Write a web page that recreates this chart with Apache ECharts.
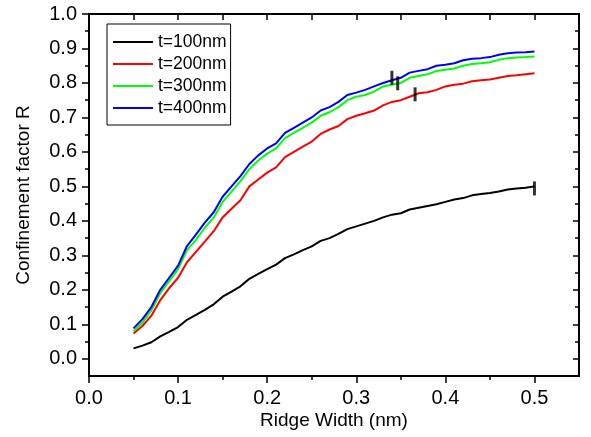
<!DOCTYPE html>
<html><head><meta charset="utf-8">
<script src="https://cdn.jsdelivr.net/npm/echarts@6/dist/echarts.min.js"></script>
<style>html,body{margin:0;padding:0;background:#fff}#c{width:591px;height:437px}</style>
</head><body><div id="c"></div>
<script>
const xValues = [0.05,0.06,0.07,0.08,0.09,0.10,0.11,0.12,0.13,0.14,0.15,0.16,0.17,0.18,0.19,0.20,0.21,0.22,0.23,0.24,0.25,0.26,0.27,0.28,0.29,0.30,0.31,0.32,0.33,0.34,0.35,0.36,0.37,0.38,0.39,0.40,0.41,0.42,0.43,0.44,0.45,0.46,0.47,0.48,0.49,0.50];
const t100 = [0.030,0.038,0.048,0.065,0.078,0.092,0.113,0.127,0.142,0.158,0.180,0.195,0.210,0.232,0.246,0.260,0.273,0.292,0.303,0.315,0.326,0.342,0.350,0.362,0.376,0.384,0.392,0.400,0.410,0.418,0.422,0.433,0.438,0.443,0.448,0.455,0.462,0.466,0.474,0.478,0.481,0.485,0.491,0.494,0.496,0.500];
const t200 = [0.073,0.095,0.125,0.170,0.205,0.235,0.280,0.310,0.340,0.370,0.410,0.435,0.460,0.500,0.520,0.540,0.555,0.585,0.600,0.615,0.630,0.652,0.665,0.675,0.695,0.705,0.712,0.720,0.735,0.745,0.750,0.760,0.770,0.773,0.780,0.790,0.795,0.798,0.805,0.808,0.810,0.815,0.820,0.822,0.825,0.828];
const t300 = [0.080,0.105,0.140,0.190,0.225,0.260,0.315,0.345,0.380,0.410,0.455,0.485,0.515,0.550,0.575,0.595,0.610,0.640,0.655,0.670,0.685,0.705,0.715,0.730,0.750,0.760,0.765,0.775,0.790,0.795,0.800,0.815,0.820,0.825,0.835,0.838,0.842,0.850,0.855,0.857,0.860,0.867,0.872,0.874,0.875,0.877];
const t400 = [0.088,0.115,0.150,0.200,0.235,0.270,0.327,0.360,0.395,0.425,0.470,0.500,0.530,0.565,0.590,0.610,0.625,0.655,0.670,0.685,0.700,0.720,0.730,0.745,0.765,0.772,0.780,0.790,0.800,0.808,0.815,0.830,0.835,0.840,0.850,0.853,0.857,0.866,0.870,0.872,0.875,0.882,0.886,0.888,0.889,0.891];
const seriesNames = ['t=100nm','t=200nm','t=300nm','t=400nm'];
const seriesColors = ['#000000','#ff0000','#00ff00','#0000ff'];
const errX = [0.5, 0.366, 0.3465, 0.340];
const errY = [0.494, 0.767, 0.799, 0.815];
const xTicks = [0.0,0.1,0.2,0.3,0.4,0.5];
const xMinorTicks = [0.05,0.15,0.25,0.35,0.45];
const yTicks = [0.0,0.1,0.2,0.3,0.4,0.5,0.6,0.7,0.8,0.9,1.0];
const yMinorTicks = [0.05,0.15,0.25,0.35,0.45,0.55,0.65,0.75,0.85,0.95];

const font = 'Liberation Sans, Arial, sans-serif';
const allSeries = [t100,t200,t300,t400];
const chart = echarts.init(document.getElementById('c'), null, {renderer:'canvas'});

function xAx(pos, ticks, len, inside, labels, name) {
  return {
    type:'value', position:pos, min:0, max:0.55, gridIndex:0,
    name: name || '', nameLocation:'middle', nameGap:35, nameMoveOverlap:false,
    nameTextStyle:{fontFamily:font,fontSize:19,color:'#000',verticalAlign:'top'},
    axisLine:{show:true,onZero:false,lineStyle:{color:'#000',width:2}},
    axisTick:{show:true,inside:inside,length:len,customValues:ticks,lineStyle:{color:'#000',width:1.5}},
    axisLabel:{show:labels,customValues:xTicks,margin:12,fontFamily:font,fontSize:20,color:'#000',formatter:v=>v.toFixed(1)},
    splitLine:{show:false}
  };
}
function yAx(pos, ticks, len, inside, labels, name) {
  return {
    type:'value', position:pos, min:-0.05, max:1.0, gridIndex:0,
    name: name || '', nameLocation:'middle', nameGap:56,
    nameTextStyle:{fontFamily:font,fontSize:19,color:'#000'},
    axisLine:{show:true,onZero:false,lineStyle:{color:'#000',width:2}},
    axisTick:{show:true,inside:inside,length:len,customValues:ticks,lineStyle:{color:'#000',width:1.5}},
    axisLabel:{show:labels,customValues:yTicks,margin:12,fontFamily:font,fontSize:20,color:'#000',formatter:v=>v.toFixed(1)},
    splitLine:{show:false}
  };
}

const series = seriesNames.map((n,i)=>({
  name:n, type:'line', xAxisIndex:0, yAxisIndex:0,
  data:xValues.map((x,j)=>[x,allSeries[i][j]]),
  symbol:'none', lineStyle:{color:seriesColors[i],width:2}, itemStyle:{color:seriesColors[i]},
  z: 2+i
}));
series.push({
  type:'scatter', xAxisIndex:0, yAxisIndex:0,
  data:errX.map((x,i)=>[x,errY[i]]),
  symbol:'rect', symbolSize:[3,14], itemStyle:{color:'#000'}, z:10, silent:true
});

chart.setOption({
  animation:false,
  backgroundColor:'#fff',
  grid:{left:89,right:12,top:14,bottom:61,containLabel:false},
  legend:{
    data:seriesNames.map((n,i)=>({name:n, icon:'rect', itemStyle:{color:seriesColors[i]}})),
    orient:'vertical', left:107, top:24,
    itemWidth:40, itemHeight:2, itemGap:4,
    padding:[9,4,8,6], borderColor:'#000', borderWidth:1,
    textStyle:{fontFamily:font,fontSize:17.5,lineHeight:18,color:'#000'}
  },
  xAxis:[
    xAx('bottom', xTicks, 7, false, true, 'Ridge Width (nm)'),
    xAx('bottom', xMinorTicks, 4, false, false),
    xAx('top', xTicks, 6, true, false),
    xAx('top', xMinorTicks, 6, true, false)
  ],
  yAxis:[
    yAx('left', yTicks, 7, false, true, 'Confinement factor R'),
    yAx('left', yMinorTicks, 4, false, false),
    yAx('right', yTicks, 6, true, false),
    yAx('right', yMinorTicks, 4, true, false)
  ],
  series:series
});
</script></body></html>
